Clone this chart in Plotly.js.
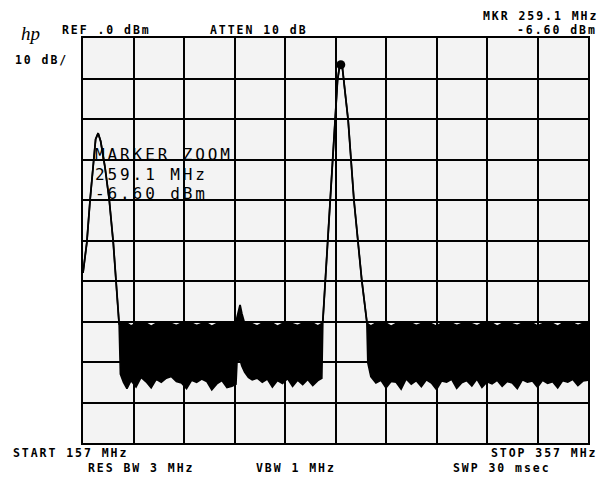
<!DOCTYPE html>
<html>
<head>
<meta charset="utf-8">
<script src="https://cdn.plot.ly/plotly-3.0.1.min.js"></script>
<style>
  html, body { margin: 0; padding: 0; background: #fff; }
  #chart { width: 604px; height: 479px; }
</style>
</head>
<body>
<div id="chart"></div>
<script>
// ---- Data (frequency in MHz, level in dBm) ----
const startMHz = 157, stopMHz = 357;
const refLevelDbm = 0, dbPerDiv = 10, divisions = 10;

// left signal (partly off screen)
const leftPeakFreq  = [157.0, 158.5, 159.8, 160.9, 162.0, 163.0, 164.0, 165.7, 167.4, 169.0, 170.4, 171.3];
const leftPeakLevel = [-58.0, -50.6, -40.0, -31.9, -25.0, -23.5, -25.5, -31.9, -40.0, -50.6, -61.5, -70.6];

// noise floor, first block (top and bottom of the trace envelope)
const noiseAFreq   = [171.8, 173, 174.4, 176, 178, 180, 182, 184, 186, 188, 190, 192, 194, 196, 198, 200, 202, 204, 206, 208, 210, 212, 214, 216, 217.6];
const noiseATop    = [-70.6, -70.5, -70.4, -71.1, -70.5, -70.6, -70.4, -71.2, -70.5, -70.6, -70.4, -70.5, -71.0, -70.4, -70.6, -70.4, -71.0, -70.5, -70.4, -71.2, -70.5, -70.4, -70.6, -70.4, -70.6];
const noiseABottom = [-83.0, -85.0, -86.6, -84.6, -86.2, -83.8, -84.9, -86.4, -84.3, -85.0, -84.0, -83.6, -84.8, -85.2, -86.6, -84.5, -85.0, -84.2, -84.8, -86.9, -85.4, -84.6, -86.3, -86.0, -85.5];

// small spur near 219 MHz
const spurFreq   = [218.0, 218.6, 219.2, 219.9];
const spurTop    = [-69.0, -67.2, -65.9, -68.0];
const spurBottom = [-80.0, -79.5, -79.5, -81.0];

// noise floor, second block
const noiseBFreq   = [221.0, 222.5, 224, 226, 228, 230, 232, 234, 236, 238, 240, 242, 244, 246, 248, 250, 251.6];
const noiseBTop    = [-70.5, -70.4, -70.6, -71.1, -70.4, -70.5, -70.4, -71.2, -70.5, -70.4, -70.6, -71.0, -70.4, -70.5, -70.4, -71.1, -70.5];
const noiseBBottom = [-82.5, -83.8, -84.4, -84.0, -85.0, -84.2, -86.2, -84.6, -85.3, -84.1, -86.0, -84.5, -85.6, -84.3, -85.8, -84.6, -84.0];

// main signal (marker)
const mainPeakFreq  = [252.0, 254.0, 255.9, 256.8, 257.8, 258.6, 259.1, 259.7, 260.6, 262.0, 264.3, 267.4, 269.4];
const mainPeakLevel = [-69.8, -49.9, -30.1, -20.2, -10.5, -7.0, -6.6, -7.2, -12.0, -20.2, -40.0, -59.8, -70.0];

// noise floor, third block
const noiseCFreq   = [269.8, 271, 273, 275, 277, 279, 281, 283, 285, 287, 289, 291, 293, 295, 297, 299, 301, 303, 305, 307, 309, 311, 313, 315, 317, 319, 321, 323, 325, 327, 329, 331, 333, 335, 337, 339, 341, 343, 345, 347, 349, 351, 353, 355, 357];
const noiseCTop    = [-70.6, -71.1, -70.4, -70.5, -70.4, -71.2, -70.5, -70.4, -70.6, -70.4, -71.0, -70.5, -70.4, -70.6, -71.2, -70.4, -70.5, -70.4, -71.0, -70.5, -70.4, -70.6, -71.1, -70.4, -70.5, -70.4, -71.2, -70.5, -70.4, -70.6, -71.0, -70.4, -70.5, -70.4, -71.1, -70.6, -70.4, -70.5, -71.2, -70.4, -70.5, -70.4, -71.0, -70.5, -70.6];
const noiseCBottom = [-80.2, -83.6, -85.2, -84.5, -86.4, -84.8, -85.0, -86.7, -84.2, -85.5, -84.6, -86.1, -84.4, -85.2, -86.8, -84.7, -85.0, -84.3, -86.5, -85.1, -84.6, -85.9, -84.2, -86.3, -84.9, -85.4, -84.5, -86.0, -84.8, -85.2, -86.6, -84.4, -85.0, -84.7, -86.2, -84.5, -85.3, -84.9, -86.4, -84.6, -85.0, -84.3, -85.8, -84.7, -84.5];

// marker readout
const markerFreq  = [259.1];
const markerLevel = [-6.6];

// screen annotations
const hdrLeftTop   = "REF .0 dBm";
const hdrMidTop    = "ATTEN 10 dB";
const hdrScale     = "10 dB/";
const hdrMkr1      = "MKR 259.1 MHz";
const hdrMkr2      = "-6.60 dBm";
const ftrStart     = "START 157 MHz";
const ftrStop      = "STOP 357 MHz";
const ftrRbw       = "RES BW 3 MHz";
const ftrVbw       = "VBW 1 MHz";
const ftrSwp       = "SWP 30 msec";
const zoomLines    = ["MARKER ZOOM", "259.1 MHz", "-6.60 dBm"];

// ---- Assemble full trace (top / bottom envelope) ----
const freqMHz = [].concat(leftPeakFreq, noiseAFreq, spurFreq, noiseBFreq, mainPeakFreq, noiseCFreq);
const traceTop = [].concat(leftPeakLevel, noiseATop, spurTop, noiseBTop, mainPeakLevel, noiseCTop);
const traceBottom = [].concat(leftPeakLevel, noiseABottom, spurBottom, noiseBBottom, mainPeakLevel, noiseCBottom);

// ---- Layout geometry ----
const W = 604, H = 479;
const L = 83, R = 588, T = 38, B = 443;
const px = x => (x - L) / (R - L);
const py = y => (B - y) / (B - T);

function lab(text, x, y, size, spacing, bold, family) {
  const inner = bold ? '<b>' + text + '</b>' : text;
  return {
    xref: 'paper', yref: 'paper', x: px(x), y: py(y),
    xanchor: 'left', yanchor: 'middle', showarrow: false,
    text: '<span style="letter-spacing:' + spacing + 'px">' + inner + '</span>',
    font: { family: family || 'DejaVu Sans Mono', size: size, color: '#000' },
    borderpad: 0
  };
}

const small = 11.5, sp = 1.95;
const annotations = [
  { xref: 'paper', yref: 'paper', x: px(20), y: py(34), xanchor: 'left', yanchor: 'middle', showarrow: false,
    text: 'hp', font: { family: 'Liberation Serif', size: 19, color: '#000', style: 'italic' }, borderpad: 0 },
  lab(hdrLeftTop, 61, 30, small, sp, true),
  lab(hdrMidTop, 209, 30, small, sp, true),
  lab(hdrScale, 14, 60, small, sp, true),
  lab(hdrMkr1, 482, 16, small, sp, true),
  lab(hdrMkr2, 516, 30, small, sp, true),
  lab(ftrStart, 12, 453, small, sp, true),
  lab(ftrRbw, 87, 468, small, sp, true),
  lab(ftrVbw, 255, 468, small, sp, true),
  lab(ftrStop, 490, 453, small, sp, true),
  lab(ftrSwp, 452, 468, small, sp, true),
  lab(zoomLines[0], 94, 154, 16, 2.9, false),
  lab(zoomLines[1], 94, 174, 16, 2.9, false),
  lab(zoomLines[2], 94, 193, 16, 2.9, false)
];

const traces = [
  { x: freqMHz, y: traceBottom, mode: 'lines', line: { color: '#000', width: 1.6 }, hoverinfo: 'skip', showlegend: false },
  { x: freqMHz, y: traceTop, mode: 'lines', fill: 'tonexty', fillcolor: '#000', line: { color: '#000', width: 1.8 }, hoverinfo: 'skip', showlegend: false },
  { x: markerFreq, y: markerLevel, mode: 'markers', marker: { color: '#000', size: 9 }, hoverinfo: 'skip', showlegend: false }
];

const axisCommon = {
  showgrid: true, gridcolor: '#000', gridwidth: 2,
  showticklabels: false, ticks: '', zeroline: false,
  showline: true, linecolor: '#000', linewidth: 2, mirror: true, fixedrange: true
};

const layout = {
  width: W, height: H,
  margin: { l: L, r: W - R, t: T, b: H - B, pad: 0 },
  paper_bgcolor: '#ffffff',
  plot_bgcolor: '#f3f3f3',
  showlegend: false,
  xaxis: Object.assign({}, axisCommon, { range: [startMHz, stopMHz], tick0: startMHz, dtick: (stopMHz - startMHz) / divisions }),
  yaxis: Object.assign({}, axisCommon, { range: [refLevelDbm - dbPerDiv * divisions, refLevelDbm], tick0: refLevelDbm, dtick: dbPerDiv }),
  annotations: annotations
};

Plotly.newPlot('chart', traces, layout, { staticPlot: true, displayModeBar: false });
</script>
</body>
</html>
